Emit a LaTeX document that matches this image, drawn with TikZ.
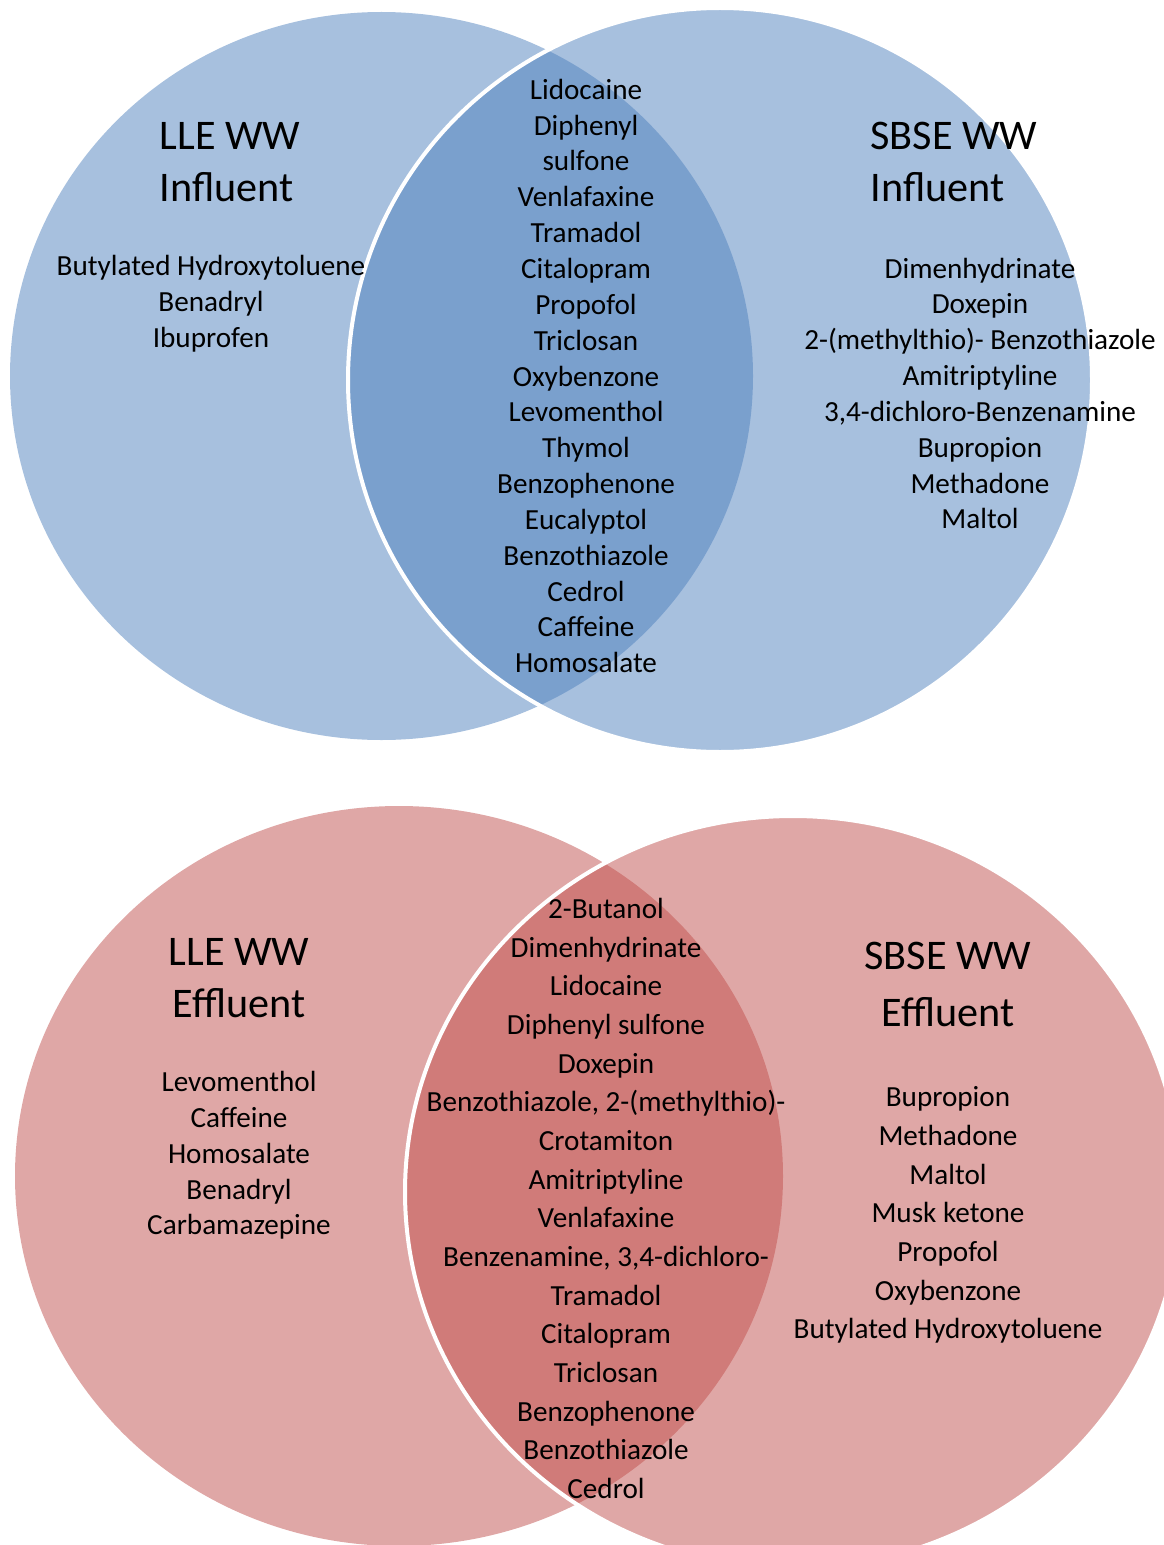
\documentclass[tikz,border=0pt]{standalone}
\usepackage{fontspec}
\setmainfont{Carlito}
\usepackage{tikz}

\definecolor{inflblue}{RGB}{79,129,189}
\definecolor{efflred}{RGB}{192,80,77}

\tikzset{
    setleft/.style={fill=#1, fill opacity=0.5},
    setright/.style={fill=#1, fill opacity=0.5, draw=white, draw opacity=1, line width=0.8mm},
    settitle/.style={font=\fontsize{24}{29.6}\selectfont},
    itemlist/.style={font=\fontsize{16.6}{20.4}\selectfont, align=center},
    itemwide/.style={font=\fontsize{16.6}{22}\selectfont, align=center}
}

\begin{document}
\begin{tikzpicture}[x=0.2mm, y=-0.2mm]
    \useasboundingbox (0,0) rectangle (1164,1545);
    \clip (0,0) rectangle (1164,1545);
    % Influent sets
    \path[setleft=inflblue] (381.5,376) ellipse [x radius=371.5, y radius=364];
    \path[setright=inflblue] (720,380) ellipse [x radius=372, y radius=372];
    % Effluent sets
    \path[setleft=efflred] (399,1176) ellipse [x radius=384, y radius=370];
    \path[setright=efflred] (793,1192) ellipse [x radius=388, y radius=376];

    % Influent labels
    \node[settitle, align=left] (lleinf) at (230,162) {LLE WW\\Influent};
    \node[settitle, align=left] (sbseinf) at (954,162) {SBSE WW\\Influent};
    \node[itemlist] (lleinfonly) at (211,304) {Butylated Hydroxytoluene\\Benadryl\\Ibuprofen};
    \node[itemlist] (bothinf) at (586,376) {Lidocaine\\Diphenyl\\sulfone\\Venlafaxine\\Tramadol\\Citalopram\\Propofol\\Triclosan\\Oxybenzone\\Levomenthol\\Thymol\\Benzophenone\\Eucalyptol\\Benzothiazole\\Cedrol\\Caffeine\\Homosalate};
    \node[itemlist] (sbseinfonly) at (980,393.5) {Dimenhydrinate\\Doxepin\\2-(methylthio)- Benzothiazole\\Amitriptyline\\3,4-dichloro-Benzenamine\\Bupropion\\Methadone\\Maltol};

    % Effluent labels
    \node[settitle, align=center] (lleeff) at (239,978.5) {LLE WW\\Effluent};
    \node[settitle, align=center, font=\fontsize{24}{32.4}\selectfont] (sbseeff) at (948,984.5) {SBSE WW\\Effluent};
    \node[itemlist] (lleeffonly) at (239,1155.5) {Levomenthol\\Caffeine\\Homosalate\\Benadryl\\Carbamazepine};
    \node[itemwide] (botheff) at (606,1198.5) {2-Butanol\\Dimenhydrinate\\Lidocaine\\Diphenyl sulfone\\Doxepin\\Benzothiazole, 2-(methylthio)-\\Crotamiton\\Amitriptyline\\Venlafaxine\\Benzenamine, 3,4-dichloro-\\Tramadol\\Citalopram\\Triclosan\\Benzophenone\\Benzothiazole\\Cedrol};
    \node[itemwide] (sbseeffonly) at (948,1215) {Bupropion\\Methadone\\Maltol\\Musk ketone\\Propofol\\Oxybenzone\\Butylated Hydroxytoluene};
\end{tikzpicture}
\end{document}
